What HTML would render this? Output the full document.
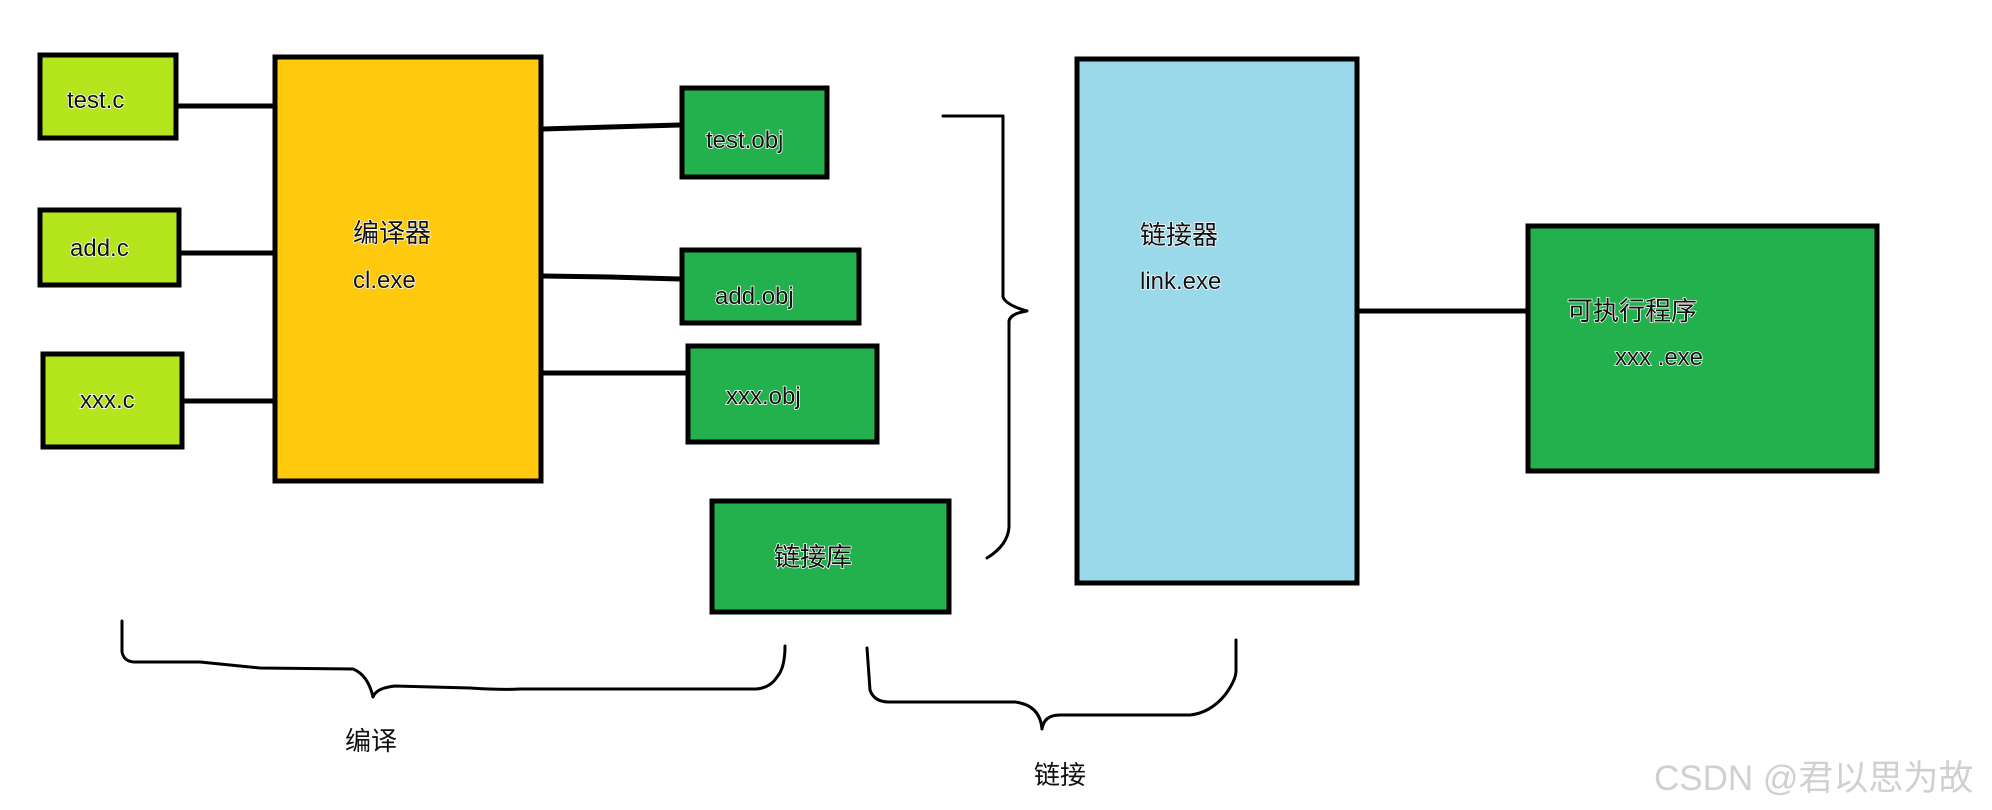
<!DOCTYPE html>
<html><head><meta charset="utf-8"><style>
html,body{margin:0;padding:0;background:#fff;}
svg{display:block}
text{font-family:"Liberation Sans","Noto Sans CJK SC",sans-serif;font-size:24px;fill:#111;paint-order:stroke;stroke:#fff;stroke-width:1.5px;}
.c{font-size:26px}
</style></head><body>
<svg width="1992" height="810" xmlns="http://www.w3.org/2000/svg">
<g stroke="#000" stroke-width="5" fill="none">
<line x1="178" y1="106" x2="273" y2="106"/>
<line x1="181" y1="253" x2="273" y2="253"/>
<line x1="184" y1="401" x2="273" y2="401"/>
<polyline points="543,129 610,127 680,125"/>
<polyline points="543,276 610,277 680,279"/>
<line x1="543" y1="373" x2="686" y2="373"/>
<line x1="1359" y1="311" x2="1526" y2="311"/>
</g>
<g stroke="#000" stroke-width="5">
<rect x="40" y="55" width="136" height="83" fill="#b5e61d"/>
<rect x="40" y="210" width="139" height="75" fill="#b5e61d"/>
<rect x="43" y="354" width="139" height="93" fill="#b5e61d"/>
<rect x="275" y="57" width="266" height="424" fill="#ffc90e"/>
<rect x="682" y="88" width="145" height="89" fill="#22b14c"/>
<rect x="682" y="250" width="177" height="73" fill="#22b14c"/>
<rect x="688" y="346" width="189" height="96" fill="#22b14c"/>
<rect x="712" y="501" width="237" height="111" fill="#22b14c"/>
<rect x="1077" y="59" width="280" height="524" fill="#99d9ea"/>
<rect x="1528" y="226" width="349" height="245" fill="#22b14c"/>
</g>
<g stroke="#000" stroke-width="3" fill="none" stroke-linejoin="round" stroke-linecap="round">
<path d="M943,116 L1003,116 L1003,297 Q1006,305 1027,311 Q1008,314 1009,323 L1009,527 Q1008,545 987,558"/>
<path d="M122,621 L122,652 Q124,662 135,662 L200,662 Q230,665 260,668 L353,669 Q368,675 373,697 Q376,688 395,686 L470,688 Q500,690 520,689 L756,689 Q770,688 777,677 Q785,668 785,646"/>
<path d="M867,648 L870,690 Q874,702 889,702 L1015,702 Q1040,705 1042,729 Q1044,715 1060,715 L1190,715 Q1210,713 1225,695 Q1236,680 1236,671 L1236,640"/>
</g>
<text x="67" y="108">test.c</text>
<text x="70" y="256">add.c</text>
<text x="80" y="408">xxx.c</text>
<text class="c" x="353" y="242">编译器</text>
<text x="353" y="288">cl.exe</text>
<text x="706" y="148">test.obj</text>
<text x="715" y="304">add.obj</text>
<text x="726" y="404">xxx.obj</text>
<text class="c" x="774" y="566">链接库</text>
<text class="c" x="1140" y="244">链接器</text>
<text x="1140" y="289">link.exe</text>
<text class="c" x="1567" y="320">可执行程序</text>
<text x="1615" y="365">xxx .exe</text>
<text class="c" x="345" y="750">编译</text>
<text class="c" x="1034" y="784">链接</text>
<text x="1654" y="790" style="font-size:35px;fill:#d0d0d0;stroke:none">CSDN @君以思为故</text>
</svg>
</body></html>
